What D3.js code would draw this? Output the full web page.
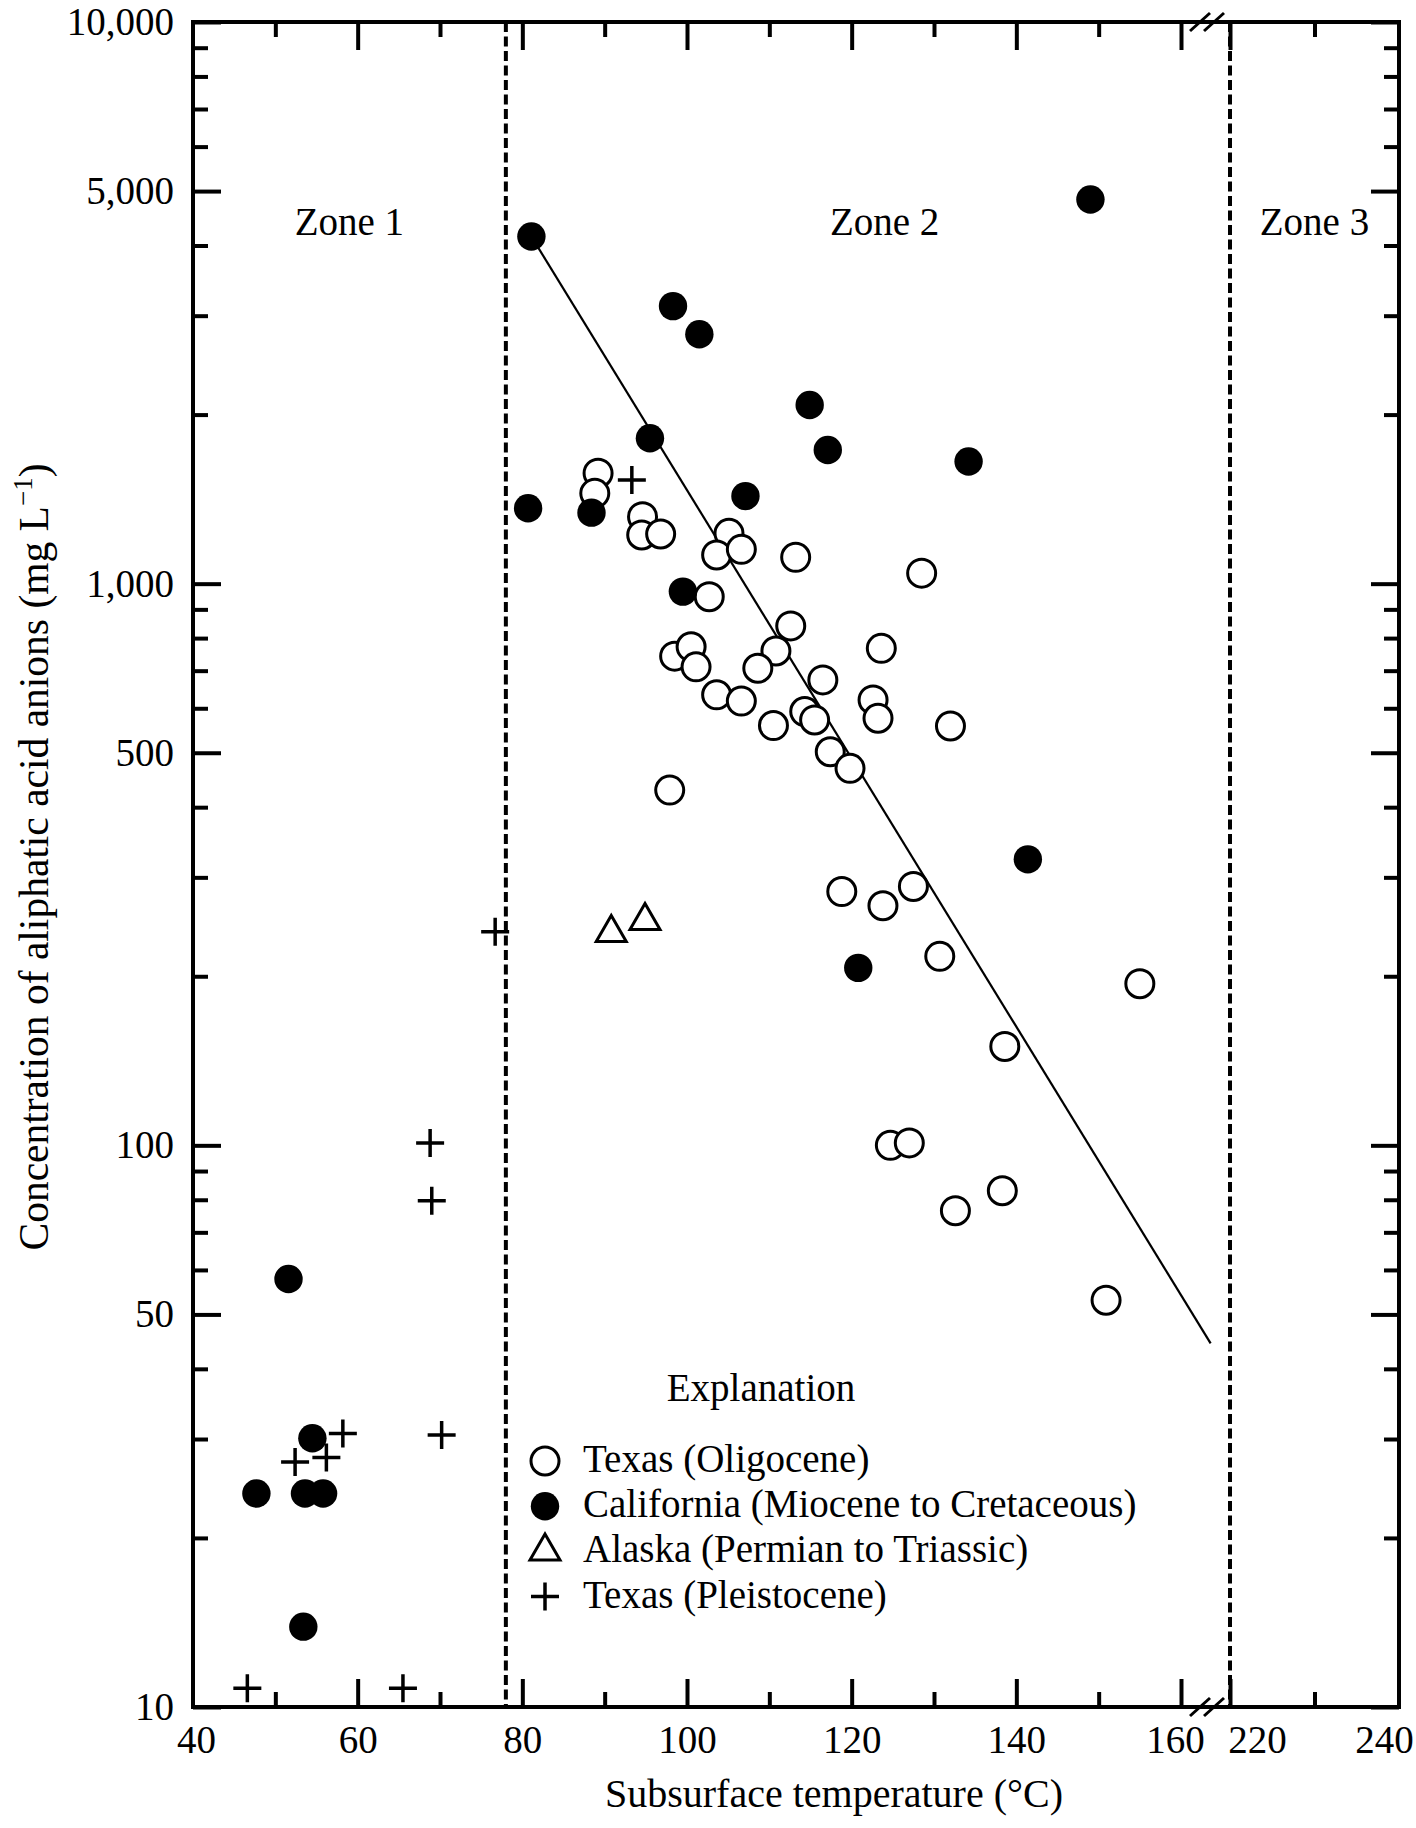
<!DOCTYPE html>
<html>
<head>
<meta charset="utf-8">
<script src="https://cdn.jsdelivr.net/npm/d3@7"></script>
<style>
  html, body { margin: 0; padding: 0; background: #fff; }
  svg { display: block; }
  text { font-family: "Liberation Serif", "Times New Roman", serif; fill: #000; }
</style>
</head>
<body>
<div id="chart"></div>
<script>
// ---------------- DATA ----------------
// Texas (Oligocene) — open circles
const texasOligoceneTemp = [89.2, 88.8, 94.6, 94.5, 96.8, 105.1, 103.6, 106.6, 113.2, 128.5,
  102.7, 112.6, 123.6, 110.8, 98.5, 100.5, 101.1, 108.6, 116.5, 103.6,
  106.6, 122.6, 114.3, 115.5, 123.2, 110.5, 132.0, 117.4, 119.8, 97.9,
  118.8, 123.8, 127.5, 130.7, 155.0, 138.6, 124.7, 127.0, 138.3, 132.6, 150.9];
const texasOligoceneConc = [1573, 1448, 1316, 1221, 1226, 1229, 1125, 1151, 1114, 1044,
  948, 841, 767, 759, 743, 772, 711, 707, 674, 634,
  618, 621, 592, 572, 576, 559, 558, 502, 469, 429,
  283, 267, 289, 217, 194, 150, 100, 101, 83, 76.5, 53];

// California (Miocene to Cretaceous) — filled circles
const californiaTemp = [81.1, 98.3, 101.5, 114.9, 95.5, 117.1, 134.2, 80.7, 88.4, 107.1,
  99.5, 149.0, 141.4, 120.8, 51.6, 54.5, 47.7, 53.6, 55.8, 53.4];
const californiaConc = [4150, 3120, 2780, 2080, 1815, 1730, 1650, 1362, 1338, 1432,
  968, 4830, 323, 207, 57.8, 30.1, 24.0, 24.0, 24.0, 13.9];

// Alaska (Permian to Triassic) — open triangles
const alaskaTemp = [90.8, 94.9];
const alaskaConc = [239, 251];

// Texas (Pleistocene) — plus signs
const pleistoceneTemp = [93.3, 76.7, 68.8, 69.0, 58.2, 70.2, 52.4, 56.2, 46.6, 65.5];
const pleistoceneConc = [1530, 240, 101, 79.7, 30.7, 30.5, 27.3, 27.8, 10.8, 10.8];

// Regression line end points
const trendTemp = [81.1, 163.6];
const trendConc = [4150, 44.4];

// Zone boundaries (°C) and zone labels
const zoneBoundaries = [78, 220];
const zoneLabels = ["Zone 1", "Zone 2", "Zone 3"];
const zoneLabelTemps = [59, 124, 230];   // label centres (°C)

// Axis ticks
const xLabelTicksLow = [40, 60, 80, 100, 120, 140, 160];
const xLabelTicksHigh = [220, 240];
const xMajorLow = [60, 80, 100, 120, 140, 160];
const xMinorLow = [50, 70, 90, 110, 130, 150];
const xMajorHigh = [220];
const xMinorHigh = [230];
const yMajorTicks = [10, 50, 100, 500, 1000, 5000, 10000];
const yMinorTicks = [20, 30, 40, 60, 70, 80, 90, 200, 300, 400, 600, 700, 800, 900,
  2000, 3000, 4000, 6000, 7000, 8000, 9000];

const legendLabels = ["Texas (Oligocene)", "California (Miocene to Cretaceous)",
  "Alaska (Permian to Triassic)", "Texas (Pleistocene)"];
const legendSymbols = ["open", "filled", "triangle", "plus"];

// ---------------- LAYOUT ----------------
const W = 1416, H = 1828;
const P = { left: 193, right: 1399, top: 22, bottom: 1707 };
const BREAK_LOW = 164;   // end of first x segment

const svg = d3.select("#chart").append("svg").attr("width", W).attr("height", H);
svg.append("rect").attr("width", W).attr("height", H).attr("fill", "#fff");

const x1 = d3.scaleLinear().domain([40, 160]).range([P.left, 1181]);
const x2 = d3.scaleLinear().domain([220, 240]).range([1230, P.right]);
const xPos = t => (t <= BREAK_LOW ? x1(t) : x2(t));
const y = d3.scaleLog().domain([10, 10000]).range([P.bottom, P.top]);

const FONT = 39;
const AXW = 4;

function styleAxis(g) {
  g.select(".domain").remove();
  g.selectAll(".tick line").attr("stroke", "#000").attr("stroke-width", AXW);
  g.selectAll(".tick text").attr("font-family", "Liberation Serif, Times New Roman, serif")
    .attr("font-size", FONT).attr("fill", "#000");
  g.attr("font-family", null).attr("font-size", null);
}

// Bottom axis
const gBottom = svg.append("g").attr("transform", `translate(0,${P.bottom})`);
gBottom.append("g").call(d3.axisBottom(x1).tickValues(xMajorLow).tickSize(-28).tickFormat("")).call(styleAxis);
gBottom.append("g").call(d3.axisBottom(x1).tickValues(xMinorLow).tickSize(-15).tickFormat("")).call(styleAxis);
gBottom.append("g").call(d3.axisBottom(x2).tickValues(xMajorHigh).tickSize(-28).tickFormat("")).call(styleAxis);
gBottom.append("g").call(d3.axisBottom(x2).tickValues(xMinorHigh).tickSize(-15).tickFormat("")).call(styleAxis);
const labelShift = { 40: 3, 160: -6, 220: 27, 240: -15 };
const bl1 = gBottom.append("g").call(d3.axisBottom(x1).tickValues(xLabelTicksLow).tickSize(0).tickPadding(18).tickFormat(d3.format("d"))).call(styleAxis);
const bl2 = gBottom.append("g").call(d3.axisBottom(x2).tickValues(xLabelTicksHigh).tickSize(0).tickPadding(18).tickFormat(d3.format("d"))).call(styleAxis);
[bl1, bl2].forEach(g => g.selectAll(".tick text").attr("dx", d => labelShift[d] || 0));

// Top axis
const gTop = svg.append("g").attr("transform", `translate(0,${P.top})`);
gTop.append("g").call(d3.axisTop(x1).tickValues(xMajorLow).tickSize(-28).tickFormat("")).call(styleAxis);
gTop.append("g").call(d3.axisTop(x1).tickValues(xMinorLow).tickSize(-15).tickFormat("")).call(styleAxis);
gTop.append("g").call(d3.axisTop(x2).tickValues(xMajorHigh).tickSize(-28).tickFormat("")).call(styleAxis);
gTop.append("g").call(d3.axisTop(x2).tickValues(xMinorHigh).tickSize(-15).tickFormat("")).call(styleAxis);

// Left axis
const gLeft = svg.append("g").attr("transform", `translate(${P.left},0)`);
gLeft.append("g").call(d3.axisLeft(y).tickValues(yMajorTicks).tickSize(-28).tickPadding(20).tickFormat(d3.format(","))).call(styleAxis);
gLeft.append("g").call(d3.axisLeft(y).tickValues(yMinorTicks).tickSize(-15).tickFormat("")).call(styleAxis);
gLeft.selectAll(".tick text").attr("x", -19);

// Right axis
const gRight = svg.append("g").attr("transform", `translate(${P.right},0)`);
gRight.append("g").call(d3.axisRight(y).tickValues(yMajorTicks).tickSize(-28).tickFormat("")).call(styleAxis);
gRight.append("g").call(d3.axisRight(y).tickValues(yMinorTicks).tickSize(-15).tickFormat("")).call(styleAxis);

// Frame
svg.append("rect").attr("x", P.left).attr("y", P.top)
  .attr("width", P.right - P.left).attr("height", P.bottom - P.top)
  .attr("fill", "none").attr("stroke", "#000").attr("stroke-width", AXW);

// Axis break marks
const breakX = [1200, 1214];
[P.top, P.bottom].forEach(yy => {
  breakX.forEach(bx => {
    svg.append("line").attr("x1", bx - 10).attr("y1", yy + 9).attr("x2", bx + 10).attr("y2", yy - 9)
      .attr("stroke", "#000").attr("stroke-width", 3);
  });
});

// Zone boundaries (dashed)
svg.append("g").selectAll("line").data(zoneBoundaries).join("line")
  .attr("x1", d => xPos(d)).attr("x2", d => xPos(d))
  .attr("y1", P.top).attr("y2", P.bottom)
  .attr("stroke", "#000").attr("stroke-width", 4).attr("stroke-dasharray", "10,4.5");

// Zone labels
svg.append("g").selectAll("text").data(zoneLabels).join("text")
  .attr("x", (d, i) => xPos(zoneLabelTemps[i])).attr("y", 235)
  .attr("text-anchor", "middle").attr("font-size", FONT).text(d => d);

// Trend line
const trend = trendTemp.map((t, i) => [t, trendConc[i]]);
svg.append("path").datum(trend)
  .attr("d", d3.line().x(d => xPos(d[0])).y(d => y(d[1])))
  .attr("fill", "none").attr("stroke", "#000").attr("stroke-width", 2.2);

// Symbol drawers
function drawSymbol(g, type, cx, cy) {
  if (type === "open") {
    g.append("circle").attr("cx", cx).attr("cy", cy).attr("r", 14)
      .attr("fill", "#fff").attr("stroke", "#000").attr("stroke-width", 3);
  } else if (type === "filled") {
    g.append("circle").attr("cx", cx).attr("cy", cy).attr("r", 14.2).attr("fill", "#000");
  } else if (type === "triangle") {
    const s = 30, h = s * Math.sqrt(3) / 2;
    g.append("path")
      .attr("d", `M${cx},${cy - 2 * h / 3}L${cx + s / 2},${cy + h / 3}L${cx - s / 2},${cy + h / 3}Z`)
      .attr("fill", "#fff").attr("stroke", "#000").attr("stroke-width", 3);
  } else if (type === "plus") {
    const a = 14;
    g.append("path").attr("d", `M${cx - a},${cy}H${cx + a}M${cx},${cy - a}V${cy + a}`)
      .attr("stroke", "#000").attr("stroke-width", 3.5).attr("fill", "none");
  }
}

const series = [
  { type: "open", t: texasOligoceneTemp, v: texasOligoceneConc },
  { type: "filled", t: californiaTemp, v: californiaConc },
  { type: "triangle", t: alaskaTemp, v: alaskaConc },
  { type: "plus", t: pleistoceneTemp, v: pleistoceneConc }
];
const pts = svg.append("g");
series.forEach(s => {
  s.t.forEach((t, i) => drawSymbol(pts, s.type, xPos(t), y(s.v[i])));
});

// Legend
const lg = svg.append("g");
lg.append("text").attr("x", 761).attr("y", 1401).attr("text-anchor", "middle")
  .attr("font-size", FONT).text("Explanation");
legendLabels.forEach((lab, i) => {
  const base = 1472 + i * 45.2;
  drawSymbol(lg, legendSymbols[i], 545, base - 11);
  lg.append("text").attr("x", 583).attr("y", base).attr("font-size", FONT).text(lab);
});

// Axis titles
svg.append("text").attr("x", 834).attr("y", 1807).attr("text-anchor", "middle")
  .attr("font-size", 40).text("Subsurface temperature (°C)");

const yt = svg.append("text").attr("transform", "translate(48,857) rotate(-90)")
  .attr("text-anchor", "middle").attr("font-size", 41.5);
yt.append("tspan").text("Concentration of aliphatic acid anions (mg L");
yt.append("tspan").attr("font-size", 27).attr("dy", -16).text("−1");
yt.append("tspan").attr("dy", 16).text(")");
</script>
</body>
</html>
